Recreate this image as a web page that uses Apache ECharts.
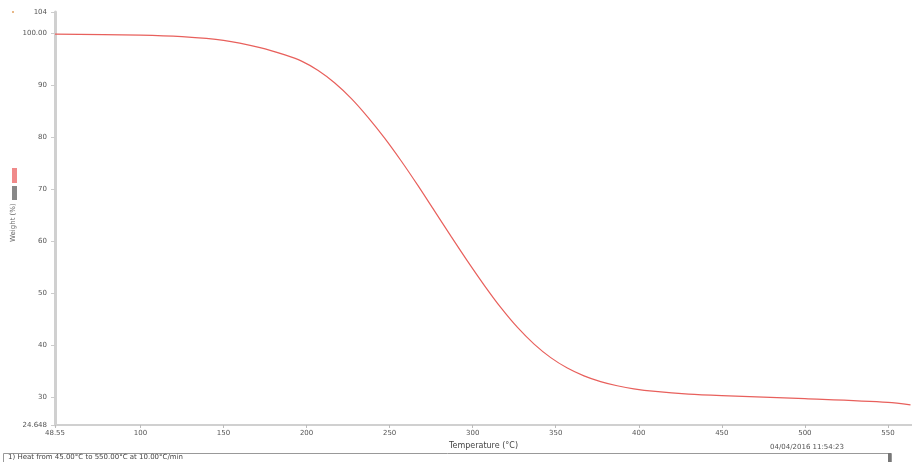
<!DOCTYPE html>
<html>
<head>
<meta charset="utf-8">
<script src="https://cdn.jsdelivr.net/npm/echarts@6/dist/echarts.min.js"></script>
<style>html,body{margin:0;padding:0;background:#fff}#c{width:912px;height:462px}</style>
</head>
<body>
<div id="c"></div>
<script>
const temps   = [48.55, 100, 125, 150, 172, 187, 197, 207, 217, 227, 237, 247, 257, 267, 277, 287, 297, 307, 317, 327, 337, 347, 357, 367, 377, 387, 397, 410, 430, 450, 500, 550, 563.6];
const weights = [99.8, 99.6, 99.3, 98.6, 97.2, 95.8, 94.6, 92.8, 90.4, 87.4, 83.8, 79.8, 75.4, 70.7, 65.8, 60.9, 56.1, 51.5, 47.2, 43.4, 40.2, 37.6, 35.6, 34.1, 33.0, 32.2, 31.6, 31.1, 30.6, 30.3, 29.7, 29.0, 28.5];
const xTicks  = [48.55, 100, 150, 200, 250, 300, 350, 400, 450, 500, 550];
const xTickLabels = ['48.55', '100', '150', '200', '250', '300', '350', '400', '450', '500', '550'];
const yTicks  = [24.648, 30, 40, 50, 60, 70, 80, 90, 100, 104.04];
const yTickLabels = ['24.648', '30', '40', '50', '60', '70', '80', '90', '100.00', '104'];

const chart = echarts.init(document.getElementById('c'));
const data = temps.map((t, i) => [t, weights[i]]);
const fnt = {fontFamily: 'DejaVu Sans', fontSize: 7, color: '#555'};
chart.setOption({
  animation: false,
  backgroundColor: '#fff',
  grid: {left: 55, right: 0, top: 12, bottom: 37},
  xAxis: {
    type: 'value', min: 48.55, max: 564.5,
    name: 'Temperature (°C)', nameLocation: 'middle', nameGap: 9,
    nameTextStyle: {fontFamily: 'DejaVu Sans', fontSize: 8, color: '#444'},
    axisLine: {lineStyle: {color: '#d0d0d0', width: 2}},
    axisTick: {customValues: xTicks, length: 3, lineStyle: {color: '#bbb'}},
    axisLabel: Object.assign({customValues: xTicks, margin: 5,
      formatter: v => { const i = xTicks.findIndex(t => Math.abs(t - v) < 1e-6); return i >= 0 ? xTickLabels[i] : ''; }}, fnt),
    splitLine: {show: false}
  },
  yAxis: {
    type: 'value', min: 24.648, max: 104.04,
    axisLine: {show: true, lineStyle: {color: '#d0d0d0', width: 3}},
    axisTick: {show: true, customValues: yTicks, length: 4, lineStyle: {color: '#ccc'}},
    axisLabel: Object.assign({customValues: yTicks, margin: 8,
      formatter: v => { const i = yTicks.findIndex(t => Math.abs(t - v) < 1e-6); return i >= 0 ? yTickLabels[i] : ''; }}, fnt),
    splitLine: {show: false}
  },
  series: [{
    type: 'line', data: data, smooth: 0.3, showSymbol: false,
    lineStyle: {color: '#e8605c', width: 1.2}
  }],
  graphic: [
    {type: 'rect', left: 12, top: 168, shape: {width: 5, height: 15}, style: {fill: '#f08a8a'}},
    {type: 'rect', left: 12, top: 186, shape: {width: 5, height: 14}, style: {fill: '#888'}},
    {type: 'text', x: 10, y: 242, rotation: Math.PI / 2, style: {text: 'Weight (%)', fontFamily: 'DejaVu Sans', fontSize: 7, fill: '#666'}},
    {type: 'circle', shape: {cx: 13, cy: 12, r: 1}, style: {fill: '#e0a060'}},
    {type: 'text', x: 770, y: 444, style: {text: '04/04/2016 11:54:23', fontFamily: 'DejaVu Sans', fontSize: 7, fill: '#555'}},
    {type: 'rect', shape: {x: 3.5, y: 453.5, width: 888, height: 9}, style: {fill: '#fff', stroke: '#999', lineWidth: 1}},
    {type: 'rect', shape: {x: 888, y: 453, width: 3, height: 9}, style: {fill: '#777'}},
    {type: 'text', x: 8, y: 454, style: {text: '1) Heat from 45.00°C to 550.00°C at 10.00°C/min', fontFamily: 'DejaVu Sans', fontSize: 7, fill: '#444'}}
  ]
});
</script>
</body>
</html>
